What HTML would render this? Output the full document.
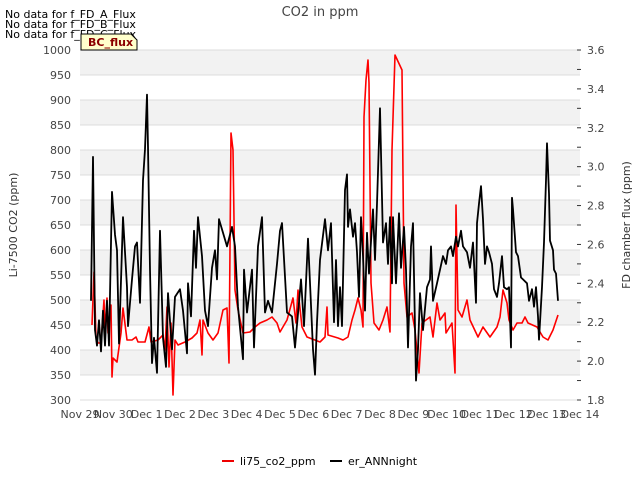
<!DOCTYPE html>
<html><head><meta charset="utf-8"><style>
body{margin:0;background:#fff;width:640px;height:480px;overflow:hidden;font-family:"DejaVu Sans","Liberation Sans",sans-serif}
svg text{font-family:"DejaVu Sans","Liberation Sans",sans-serif}
</style></head><body>
<svg id="chart" width="640" height="480" xmlns="http://www.w3.org/2000/svg">
<g id="bands"></g>
<g id="xaxis"></g>
<g id="yaxis"></g>
<g id="y2axis"></g>
<g id="series"></g>
<text x="320" y="16" text-anchor="middle" font-size="13" fill="#444">CO2 in ppm</text>
<text transform="translate(17,225) rotate(-90)" text-anchor="middle" font-size="11" fill="#333">Li-7500 CO2 (ppm)</text>
<text transform="translate(630,225) rotate(-90)" text-anchor="middle" font-size="11" fill="#333">FD chamber flux (ppm)</text>
<text x="5" y="18" font-size="11" fill="#000">No data for f_FD_A_Flux</text>
<text x="5" y="28" font-size="11" fill="#000">No data for f_FD_B_Flux</text>
<text x="5" y="38" font-size="11" fill="#000">No data for f_FD_C_Flux</text>
<g>
<path d="M81,34 L131,34 L137,40 L137,50 L81,50 Z" fill="#ffffcc" stroke="#000" stroke-width="1"/>
<text x="88" y="46" font-size="11" font-weight="bold" fill="#8b0000">BC_flux</text>
</g>
<g>
<line x1="222" y1="461" x2="234" y2="461" stroke="#e00" stroke-width="2"/>
<text x="240" y="465" font-size="11" fill="#000">li75_co2_ppm</text>
<line x1="330" y1="461" x2="342" y2="461" stroke="#000" stroke-width="2"/>
<text x="348" y="465" font-size="11" fill="#000">er_ANNnight</text>
</g>
</svg>
<script>
const xTickLabels=["Nov 29","Nov 30","Dec 1","Dec 2","Dec 3","Dec 4","Dec 5","Dec 6","Dec 7","Dec 8","Dec 9","Dec 10","Dec 11","Dec 12","Dec 13","Dec 14"];
const yTicks=[300,350,400,450,500,550,600,650,700,750,800,850,900,950,1000];
const y2Ticks=[1.8,2.0,2.2,2.4,2.6,2.8,3.0,3.2,3.4,3.6];
const redDays=[0.36,0.42,0.48,0.54,0.63,0.72,0.75,0.81,0.84,0.93,0.96,0.99,1.11,1.23,1.29,1.41,1.56,1.68,1.74,1.95,2.07,2.13,2.34,2.49,2.55,2.61,2.67,2.73,2.79,2.85,2.94,3.15,3.36,3.51,3.60,3.66,3.69,3.84,3.99,4.14,4.29,4.41,4.47,4.53,4.59,4.65,4.74,4.89,5.10,5.25,5.40,5.61,5.76,5.91,6.00,6.21,6.39,6.48,6.54,6.66,6.81,7.20,7.35,7.41,7.44,7.74,7.89,8.04,8.16,8.25,8.34,8.43,8.49,8.52,8.58,8.64,8.67,8.73,8.82,8.97,9.09,9.21,9.30,9.36,9.45,9.66,9.72,9.81,9.96,10.05,10.17,10.26,10.50,10.59,10.71,10.80,10.95,10.98,11.16,11.25,11.28,11.34,11.46,11.61,11.70,11.94,12.09,12.30,12.51,12.60,12.69,12.81,12.87,12.99,13.11,13.26,13.35,13.44,13.71,13.89,14.04,14.19,14.34];
const redVals=[450,556,426,414,414,500,434,504,434,490,346,384,376,434,484,420,420,426,416,416,446,416,420,430,400,486,366,454,310,420,410,416,424,434,460,390,460,434,420,434,480,484,374,834,800,520,480,434,436,446,454,460,466,454,436,460,504,454,520,446,426,416,426,486,430,424,420,426,460,480,504,480,446,866,940,980,934,534,454,440,460,486,436,800,990,960,534,466,474,440,354,454,466,426,494,460,474,434,454,354,690,480,466,500,460,426,446,426,446,466,520,494,460,440,454,454,466,454,446,426,420,440,470];
const blackDays=[0.33,0.39,0.45,0.51,0.57,0.63,0.69,0.75,0.81,0.87,0.96,1.05,1.11,1.17,1.29,1.41,1.44,1.56,1.65,1.71,1.80,1.89,1.95,2.01,2.04,2.10,2.16,2.22,2.31,2.40,2.49,2.58,2.64,2.76,2.85,3.00,3.09,3.21,3.24,3.33,3.42,3.48,3.54,3.66,3.75,3.84,3.96,4.05,4.11,4.17,4.29,4.41,4.56,4.65,4.74,4.89,4.92,5.01,5.16,5.22,5.34,5.46,5.55,5.64,5.76,5.91,6.00,6.06,6.21,6.36,6.45,6.63,6.72,6.84,6.99,7.05,7.11,7.20,7.35,7.44,7.53,7.62,7.68,7.74,7.80,7.86,7.95,8.01,8.04,8.10,8.19,8.25,8.31,8.37,8.43,8.49,8.55,8.61,8.67,8.79,8.85,8.91,9.00,9.06,9.09,9.18,9.24,9.30,9.36,9.39,9.48,9.57,9.63,9.72,9.78,9.84,9.93,9.99,10.08,10.14,10.20,10.29,10.41,10.50,10.53,10.59,10.71,10.80,10.89,10.98,11.04,11.13,11.19,11.28,11.34,11.43,11.49,11.61,11.70,11.79,11.88,11.91,11.97,12.03,12.09,12.15,12.21,12.27,12.36,12.42,12.51,12.57,12.66,12.72,12.81,12.87,12.93,12.96,12.99,13.08,13.14,13.23,13.29,13.41,13.47,13.56,13.62,13.68,13.74,13.77,13.86,13.92,13.98,14.01,14.07,14.10,14.19,14.22,14.28,14.31,14.34];
const blackVals=[2.31,3.05,2.16,2.08,2.21,2.05,2.26,2.08,2.31,2.08,2.87,2.65,2.57,2.09,2.74,2.38,2.18,2.42,2.59,2.61,2.30,2.93,3.09,3.37,3.10,2.47,1.99,2.12,1.94,2.67,2.12,1.97,2.35,2.06,2.33,2.37,2.26,2.04,2.40,2.23,2.67,2.48,2.74,2.54,2.26,2.18,2.48,2.57,2.42,2.73,2.66,2.59,2.69,2.59,2.28,2.01,2.47,2.25,2.47,2.07,2.59,2.74,2.25,2.31,2.25,2.50,2.67,2.71,2.25,2.23,2.07,2.42,2.18,2.63,2.06,1.93,2.20,2.52,2.73,2.57,2.71,2.20,2.52,2.18,2.38,2.18,2.88,2.96,2.69,2.78,2.64,2.71,2.56,2.33,2.74,2.54,2.26,2.66,2.45,2.78,2.52,2.81,3.30,2.84,2.61,2.71,2.50,2.74,2.40,2.74,2.40,2.76,2.48,2.69,2.47,2.07,2.59,2.71,1.90,2.06,2.35,2.16,2.38,2.42,2.59,2.31,2.40,2.47,2.54,2.50,2.57,2.59,2.54,2.64,2.59,2.67,2.59,2.56,2.48,2.61,2.30,2.71,2.81,2.90,2.73,2.50,2.59,2.56,2.50,2.37,2.33,2.40,2.54,2.38,2.37,2.38,2.07,2.84,2.78,2.56,2.54,2.43,2.42,2.40,2.31,2.37,2.28,2.38,2.23,2.11,2.38,2.61,2.93,3.12,2.86,2.62,2.57,2.47,2.45,2.38,2.31];

const NS="http://www.w3.org/2000/svg";
const L=80,R=580,T=50,B=400;
const xs=d=>L+(R-L)*d/15;
const ys=v=>B-(v-300)/700*(B-T);
const ys2=v=>B-(v-1.8)/1.8*(B-T);
function mk(tag,attrs,parent){const e=document.createElementNS(NS,tag);for(const k in attrs)e.setAttribute(k,attrs[k]);parent.appendChild(e);return e;}
const bands=document.getElementById('bands');
for(let v=350;v<1000;v+=100){
  const r=mk('rect',{x:L,y:ys(v+50),width:R-L,height:ys(v)-ys(v+50),fill:'#f2f2f2'},bands);
  
  
}
const ya=document.getElementById('yaxis');
yTicks.forEach(v=>{
  const g=mk('line',{x1:L,x2:R,y1:ys(v),y2:ys(v),stroke:'#dcdcdc','stroke-width':1},ya);
  
  
  const t=mk('text',{x:L-9,y:ys(v)+4,'text-anchor':'end','font-size':11,fill:'#444'},ya);
  t.textContent=v;
  
  
});
const y2=document.getElementById('y2axis');
for(let i=0;i<=18;i++){
  const v=1.8+i*0.1;
  const tk=mk('line',{x1:R-3,x2:R+1,y1:ys2(v),y2:ys2(v),stroke:'#333','stroke-width':1},y2);
  
  
}
y2Ticks.forEach(v=>{
  const t=mk('text',{x:R+7,y:ys2(v)+4,'font-size':11,fill:'#444'},y2);
  t.textContent=v.toFixed(1);
  
  
});
const xa=document.getElementById('xaxis');
xTickLabels.forEach((s,i)=>{
  const t=mk('text',{x:xs(i),y:418,'text-anchor':'middle','font-size':11,fill:'#444'},xa);
  t.textContent=s;
  
  
});
const ser=document.getElementById('series');
const pr=mk('polyline',{points:redDays.map((d,i)=>xs(d).toFixed(1)+','+ys(redVals[i]).toFixed(1)).join(' '),fill:'none',stroke:'#f00','stroke-width':1.6,'stroke-linejoin':'round'},ser);


const pb=mk('polyline',{points:blackDays.map((d,i)=>xs(d).toFixed(1)+','+ys2(blackVals[i]).toFixed(1)).join(' '),fill:'none',stroke:'#000','stroke-width':1.8,'stroke-linejoin':'round'},ser);


</script>
</body></html>
